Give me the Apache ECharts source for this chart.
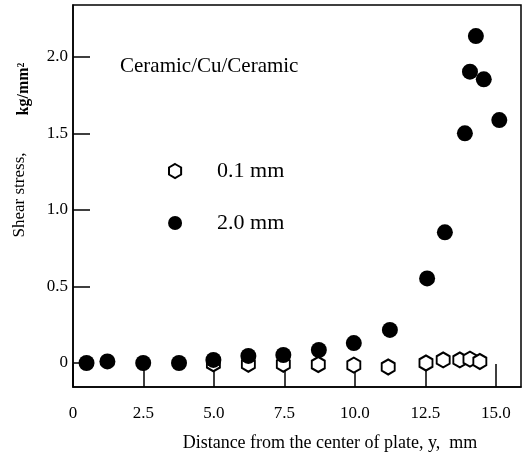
<!DOCTYPE html>
<html>
<head>
<meta charset="utf-8">
<script src="https://cdn.jsdelivr.net/npm/echarts@6/dist/echarts.min.js"></script>
<style>
html,body{margin:0;padding:0;background:#fff;}
#chart{width:523px;height:455px;}
</style>
</head>
<body>
<div id="chart"></div>
<script>
// 2.0 mm series (filled circles)
const thickX = [0.48, 1.22, 2.49, 3.76, 4.98, 6.22, 7.46, 8.72, 9.96, 11.24, 12.56, 13.19, 13.90, 14.08, 14.29, 14.57, 15.12];
const thickY = [0.00, 0.01, 0.00, 0.00, 0.02, 0.046, 0.052, 0.085, 0.13, 0.216, 0.553, 0.854, 1.501, 1.904, 2.137, 1.854, 1.588];
// 0.1 mm series (open hexagons)
const thinX = [4.98, 6.22, 7.46, 8.70, 9.96, 11.18, 12.52, 13.13, 13.72, 14.08, 14.43];
const thinY = [-0.005, -0.008, -0.008, -0.01, -0.014, -0.026, 0.0, 0.02, 0.02, 0.025, 0.01];
// tick labels
const xTickValues = [0, 2.5, 5, 7.5, 10, 12.5, 15];
const xTickLabels = ['0', '2.5', '5.0', '7.5', '10.0', '12.5', '15.0'];
const yTickValues = [0, 0.5, 1, 1.5, 2];
const yTickLabels = ['0', '0.5', '1.0', '1.5', '2.0'];
const seriesNames = ['0.1 mm', '2.0 mm'];

const hexPath = 'path://M0,-1 L0.866,-0.5 L0.866,0.5 L0,1 L-0.866,0.5 L-0.866,-0.5 Z';
const serif = '"Liberation Serif", "DejaVu Serif", serif';

function lab(values, labels) {
  return function (v) {
    for (let i = 0; i < values.length; i++) {
      if (Math.abs(values[i] - v) < 1e-6) return labels[i];
    }
    return '';
  };
}

const chart = echarts.init(document.getElementById('chart'), null, {renderer: 'canvas'});
chart.setOption({
  backgroundColor: '#fff',
  animation: false,
  grid: {left: 73, top: 5, width: 448, height: 382, show: true, borderColor: '#000', borderWidth: 1.5, backgroundColor: 'transparent'},
  title: {
    text: 'Ceramic/Cu/Ceramic', left: 115, top: 51,
    textStyle: {fontFamily: serif, fontSize: 21, fontWeight: 'normal', color: '#000'}
  },
  legend: {
    orient: 'vertical', left: 163, top: 155, itemGap: 30, itemWidth: 14, itemHeight: 14,
    formatter: function (n) { return '{s|}{t|' + n + '}'; },
    textStyle: {fontFamily: serif, fontSize: 22, color: '#000',
      rich: {s: {width: 30}, t: {fontFamily: serif, fontSize: 22, color: '#000'}}},
    data: [
      {name: seriesNames[0], icon: hexPath, itemStyle: {color: '#fff', borderColor: '#000', borderWidth: 2}},
      {name: seriesNames[1], icon: 'circle', itemStyle: {color: '#000', borderWidth: 0}}
    ]
  },
  xAxis: {
    type: 'value', min: 0, max: 15.89,
    splitLine: {show: false},
    axisLine: {show: true, onZero: false, lineStyle: {color: '#000', width: 1.5}},
    axisTick: {show: true, inside: true, length: 23, customValues: xTickValues, lineStyle: {color: '#000', width: 1.5}},
    axisLabel: {customValues: xTickValues, formatter: lab(xTickValues, xTickLabels), margin: 18, fontFamily: serif, fontSize: 17, color: '#000'}
  },
  yAxis: {
    type: 'value', min: -0.157, max: 2.34,
    splitLine: {show: false},
    axisLine: {show: true, onZero: false, lineStyle: {color: '#000', width: 1.5}},
    axisTick: {show: true, inside: true, length: 17, customValues: yTickValues, lineStyle: {color: '#000', width: 1.5}},
    axisLabel: {customValues: yTickValues, formatter: lab(yTickValues, yTickLabels), margin: 5, fontFamily: serif, fontSize: 17, color: '#000'}
  },
  graphic: [
    {type: 'text', x: 20, y: 195, rotation: Math.PI / 2,
      style: {text: 'Shear stress,', fontFamily: serif, fontSize: 17, fill: '#000', align: 'center', verticalAlign: 'middle'}},
    {type: 'text', x: 24, y: 89, rotation: Math.PI / 2,
      style: {text: 'kg/mm²', fontFamily: serif, fontSize: 16, fontWeight: 'bold', fill: '#000', align: 'center', verticalAlign: 'middle'}},
    {type: 'text', x: 330, y: 443,
      style: {text: 'Distance from the center of plate, y,  mm', fontFamily: serif, fontSize: 18, fill: '#000', align: 'center', verticalAlign: 'middle'}}
  ],
  series: [
    {
      name: seriesNames[0], type: 'scatter', symbol: hexPath, symbolSize: [13, 15],
      itemStyle: {color: '#fff', borderColor: '#000', borderWidth: 2, opacity: 1},
      data: thinX.map((x, i) => [x, thinY[i]]), z: 2
    },
    {
      name: seriesNames[1], type: 'scatter', symbol: 'circle', symbolSize: 16,
      itemStyle: {color: '#000', opacity: 1},
      data: thickX.map((x, i) => [x, thickY[i]]), z: 3
    }
  ]
});
</script>
</body>
</html>
